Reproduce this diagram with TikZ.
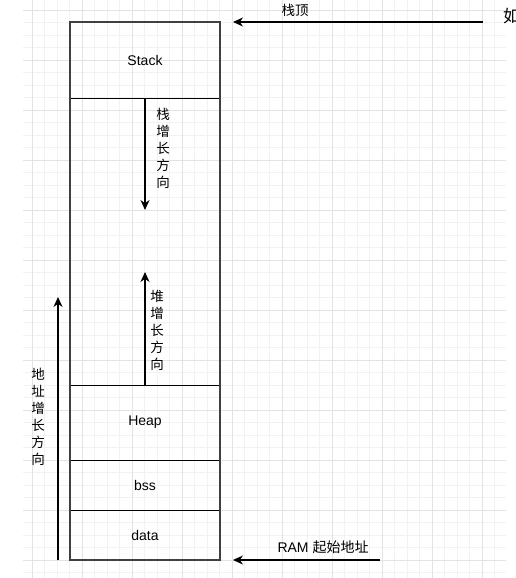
\documentclass[tikz,border=0pt]{standalone}
\usepackage{fontspec}
\setmainfont{Liberation Sans}
\newfontfamily\cjk{Noto Sans CJK SC}
\usetikzlibrary{arrows.meta}

\tikzset{
	seg/.style = {draw = black, line width = .8pt, minimum width = 150pt, inner sep = 0pt, outer sep = 0pt},
	growarrow/.style = {line width = 1.1pt, -{Stealth[length = 10pt, width = 9pt]}},
	vtext/.style = {font = \cjk\fontsize{13.5}{17}\selectfont, align = center, inner sep = 0pt}
}

\begin{document}
\begin{tikzpicture}[x = 1pt, y = -1pt, font = \fontsize{14}{16}\selectfont]
	\useasboundingbox[fill = white] (0,0) rectangle (515,578);
	% grid
	\foreach \x in {44.5,57,69.5,94.5,107,119.5,144.5,157,169.5,194.5,207,219.5,244.5,257,269.5,294.5,307,319.5,344.5,357,369.5,394.5,407,419.5,444.5,457,469.5,494.5}
		\draw[black!5, line width = .6pt] (\x,0) -- (\x,578);
	\foreach \y in {22.5,35,47.5,72.5,85,97.5,122.5,135,147.5,172.5,185,197.5,222.5,235,247.5,272.5,285,297.5,322.5,335,347.5,372.5,385,397.5,422.5,435,447.5,472.5,485,497.5,522.5,535,547.5,572.5}
		\draw[black!5, line width = .6pt] (23,\y) -- (506,\y);
	\foreach \x in {32,82,...,482}
		\draw[black!11, line width = .8pt] (\x,0) -- (\x,578);
	\foreach \y in {10,60,...,560}
		\draw[black!11, line width = .8pt] (23,\y) -- (506,\y);

	% memory layout
	\node[seg, minimum height = 76pt] (stack) at (145,60) {Stack};
	\node[seg, minimum height = 287pt] (free) at (145,241.5) {};
	\node[seg, minimum height = 75pt] (heap) at (145,422.5) {Heap};
	\node[seg, minimum height = 50pt] (bss) at (145,485) {bss};
	\node[seg, minimum height = 50pt] (data) at (145,535) {data};
	\draw[black!75, line width = 1.4pt] (stack.north west) rectangle (data.south east);

	% growth directions
	\coordinate (stackend) at (145,210);
	\coordinate (heapend) at (145,272);
	\draw[growarrow] (stack.south) -- (stackend);
	\draw[growarrow] (heap.north) -- (heapend);
	\node[vtext] (stacklbl) at (163,148) {栈\\增\\长\\方\\向};
	\node[vtext] (heaplbl) at (157,330) {堆\\增\\长\\方\\向};

	\coordinate (addrbot) at (58,560);
	\coordinate (addrtop) at (58,297);
	\draw[growarrow] (addrbot) -- (addrtop);
	\node[vtext] (addrlbl) at (38,417) {地\\址\\增\\长\\方\\向};

	% pointers
	\coordinate (topfrom) at (483,22);
	\coordinate (topto) at (233,22);
	\draw[growarrow] (topfrom) -- (topto);
	\node[font = \cjk\fontsize{13.5}{15}\selectfont] (toplbl) at (295,10) {栈顶};
	\node[font = \cjk\fontsize{17}{19}\selectfont, anchor = west, inner sep = 0pt] (cut) at (503,16) {如};

	\coordinate (ramfrom) at (380,560);
	\coordinate (ramto) at (233,560);
	\draw[growarrow] (ramfrom) -- (ramto);
	\node (ramlbl) at (323,547) {RAM {\cjk 起始地址}};
\end{tikzpicture}
\end{document}
